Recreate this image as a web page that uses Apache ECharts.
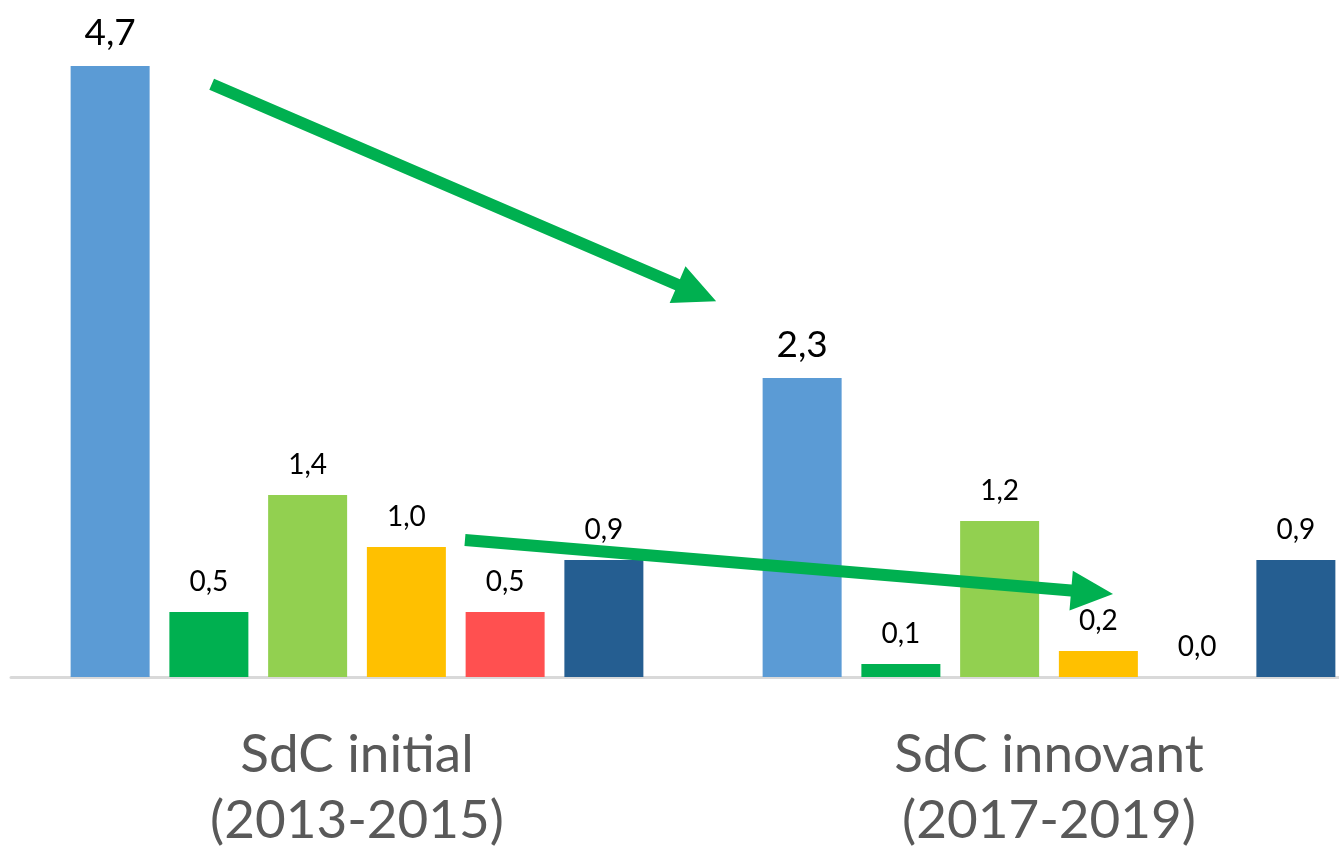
<!DOCTYPE html>
<html>
<head>
<meta charset="utf-8">
<script src="https://cdn.jsdelivr.net/npm/echarts@6/dist/echarts.min.js"></script>
<style>
  html, body { margin: 0; padding: 0; background: #ffffff; }
  #chart { width: 1339px; height: 850px; }
</style>
</head>
<body>
<div id="chart"></div>
<script>
// Periods compared
const categories = ['SdC initial\n(2013-2015)', 'SdC innovant\n(2017-2019)'];

// One series per indicator, one value per period
const serie1 = [4.7, 2.3];
const serie2 = [0.5, 0.1];
const serie3 = [1.4, 1.2];
const serie4 = [1.0, 0.2];
const serie5 = [0.5, 0.0];
const serie6 = [0.9, 0.9];

const seriesValues = [serie1, serie2, serie3, serie4, serie5, serie6];
const seriesColors = ['#5B9BD5', '#00B050', '#92D050', '#FFC000', '#FF5050', '#255E91'];
// the first series carries larger value labels
const labelSizes = [37, 28, 28, 28, 28, 28];

// Trend arrows, given as [category position, value] pairs
const arrowFrom = [[-0.21, 4.56], [0.156, 1.054]];
const arrowTo = [[0.519, 2.89], [1.0925, 0.638]];

const fmt = v => v.toFixed(1).replace('.', ',');

const chart = echarts.init(document.getElementById('chart'));

const series = seriesValues.map((vals, i) => ({
  type: 'bar',
  data: vals,
  barWidth: 79,
  barGap: '25%',
  itemStyle: { color: seriesColors[i] },
  label: {
    show: true,
    position: 'top',
    distance: i === 0 ? 14 : 16,
    color: '#000000',
    fontFamily: 'Lato',
    fontSize: labelSizes[i],
    formatter: p => fmt(p.value)
  }
}));

chart.setOption({
  animation: false,
  backgroundColor: '#ffffff',
  // the plot runs past the right edge of the canvas
  grid: { left: 11, width: 1384, top: 27, bottom: 173, containLabel: false, outerBoundsMode: 'none' },
  xAxis: {
    type: 'category',
    data: categories,
    axisLine: { show: true, lineStyle: { color: '#D9D9D9', width: 3 } },
    axisTick: { show: false },
    axisLabel: {
      color: '#595959',
      fontFamily: 'Lato',
      fontSize: 53,
      lineHeight: 66,
      margin: 45
    }
  },
  yAxis: {
    type: 'value',
    min: 0,
    max: 5,
    show: false,
    splitLine: { show: false }
  },
  series: series
});

// Arrows drawn on top of the bars, positioned through the chart's own axes
function toPixel(pt) {
  const c0 = chart.convertToPixel({ xAxisIndex: 0 }, 0);
  const c1 = chart.convertToPixel({ xAxisIndex: 0 }, 1);
  const band = c1 - c0;
  const x = c0 + pt[0] * band;
  const y = chart.convertToPixel({ yAxisIndex: 0 }, pt[1]);
  return [x, y];
}

function arrowShape(a, b, shaft, headLen, headW) {
  const dx = b[0] - a[0], dy = b[1] - a[1];
  const len = Math.sqrt(dx * dx + dy * dy);
  const ux = dx / len, uy = dy / len;
  const nx = -uy, ny = ux;
  const bx = b[0] - ux * headLen, by = b[1] - uy * headLen;
  const hs = shaft / 2, hh = headW / 2;
  return [
    [a[0] + nx * hs, a[1] + ny * hs],
    [bx + nx * hs, by + ny * hs],
    [bx + nx * hh, by + ny * hh],
    [b[0], b[1]],
    [bx - nx * hh, by - ny * hh],
    [bx - nx * hs, by - ny * hs],
    [a[0] - nx * hs, a[1] - ny * hs]
  ];
}

const arrows = arrowFrom.map((from, i) => ({
  type: 'polygon',
  z: 100,
  shape: { points: arrowShape(toPixel(from), toPixel(arrowTo[i]), 12, 42, 40) },
  style: { fill: '#00B050' }
}));

chart.setOption({ graphic: arrows });
</script>
</body>
</html>
